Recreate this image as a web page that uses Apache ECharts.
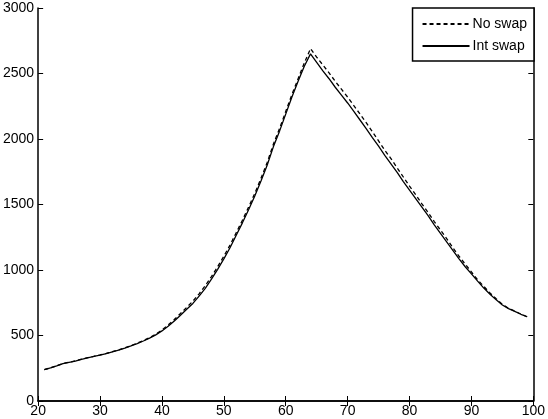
<!DOCTYPE html>
<html>
<head>
<meta charset="utf-8">
<script src="https://cdn.jsdelivr.net/npm/echarts@6/dist/echarts.min.js"></script>
<style>
html, body { margin: 0; padding: 0; background: #fff; }
#chart { width: 548px; height: 419px; }
</style>
</head>
<body>
<div id="chart"></div>
<script>
// x positions, 21..99
const xValues = [];
for (let i = 21; i <= 99; i++) { xValues.push(i); }

// values
const noSwap = [
  240, 253, 269, 286, 296, 306, 319, 331, 341, 352,
  364, 377, 390, 406, 423, 441, 461, 484, 510, 542,
  580, 622, 668, 715, 762, 818, 880, 950, 1025, 1105,
  1190, 1285, 1380, 1480, 1585, 1700, 1820, 1960, 2080, 2210,
  2340, 2460, 2580, 2690, 2625, 2565, 2505, 2440, 2380, 2320,
  2255, 2190, 2125, 2055, 1985, 1915, 1850, 1780, 1710, 1640,
  1575, 1505, 1440, 1370, 1305, 1240, 1170, 1105, 1045, 985,
  925, 875, 825, 780, 738, 708, 686, 663, 643
];
const intSwap = [
  240, 252, 268, 285, 295, 305, 318, 330, 340, 350,
  362, 375, 388, 403, 420, 438, 458, 480, 505, 535,
  570, 610, 655, 700, 745, 800, 860, 930, 1005, 1085,
  1170, 1265, 1360, 1460, 1565, 1680, 1800, 1940, 2060, 2190,
  2320, 2440, 2555, 2650, 2585, 2520, 2460, 2395, 2335, 2275,
  2210, 2145, 2080, 2010, 1945, 1875, 1810, 1745, 1675, 1610,
  1545, 1480, 1415, 1345, 1280, 1215, 1150, 1085, 1025, 970,
  915, 862, 815, 772, 733, 705, 684, 662, 643
];

const pairs = (ys) => xValues.map((x, i) => [x, ys[i]]);

const font = 'Liberation Sans, Arial, Helvetica, sans-serif';
const plain = (v) => String(v);
const frame = { color: '#000', width: 1.5 };

var myChart = echarts.init(document.getElementById('chart'));
var option = {
    animation: false,
    backgroundColor: '#fff',
    grid: { left: 38, right: 14, top: 8, bottom: 18, containLabel: false },
    legend: {
        orient: 'vertical',
        right: 14,
        top: 8,
        padding: [9, 7, 8, 9],
        itemGap: 8,
        itemWidth: 47,
        itemHeight: 8,
        backgroundColor: '#fff',
        borderColor: '#000',
        borderWidth: 1.5,
        itemStyle: { color: 'transparent', borderWidth: 0, opacity: 0 },
        textStyle: { fontFamily: font, fontSize: 14, color: '#000', padding: [0, 0, 0, -2] },
        data: ['No swap', 'Int swap']
    },
    xAxis: [{
        type: 'value', min: 20, max: 100, interval: 10,
        axisLine: { lineStyle: frame },
        axisTick: { inside: true, length: 5, lineStyle: { color: '#000' } },
        axisLabel: { fontFamily: font, fontSize: 14, color: '#000', margin: 3, formatter: plain },
        splitLine: { show: false }
    }, {
        type: 'value', min: 20, max: 100, interval: 10, position: 'top',
        axisLine: { show: true, lineStyle: frame },
        axisTick: { inside: true, length: 5, lineStyle: { color: '#000' } },
        axisLabel: { show: false },
        splitLine: { show: false }
    }],
    yAxis: [{
        type: 'value', min: 0, max: 3000, interval: 500,
        axisLine: { show: true, lineStyle: frame },
        axisTick: { show: true, inside: true, length: 5, lineStyle: { color: '#000' } },
        axisLabel: { fontFamily: font, fontSize: 14, color: '#000', margin: 4, formatter: plain },
        splitLine: { show: false }
    }, {
        type: 'value', min: 0, max: 3000, interval: 500, position: 'right',
        axisLine: { show: true, lineStyle: frame },
        axisTick: { show: true, inside: true, length: 5, lineStyle: { color: '#000' } },
        axisLabel: { show: false },
        splitLine: { show: false }
    }],
    series: [
        {
            name: 'No swap',
            type: 'line',
            symbol: 'none',
            lineStyle: { color: '#000', width: 1.3, type: [4, 3] },
            itemStyle: { color: '#000' },
            data: pairs(noSwap)
        },
        {
            name: 'Int swap',
            type: 'line',
            symbol: 'none',
            lineStyle: { color: '#000', width: 1.3, type: 'solid' },
            itemStyle: { color: '#000' },
            data: pairs(intSwap)
        }
    ]
};
myChart.setOption(option);
</script>
</body>
</html>
